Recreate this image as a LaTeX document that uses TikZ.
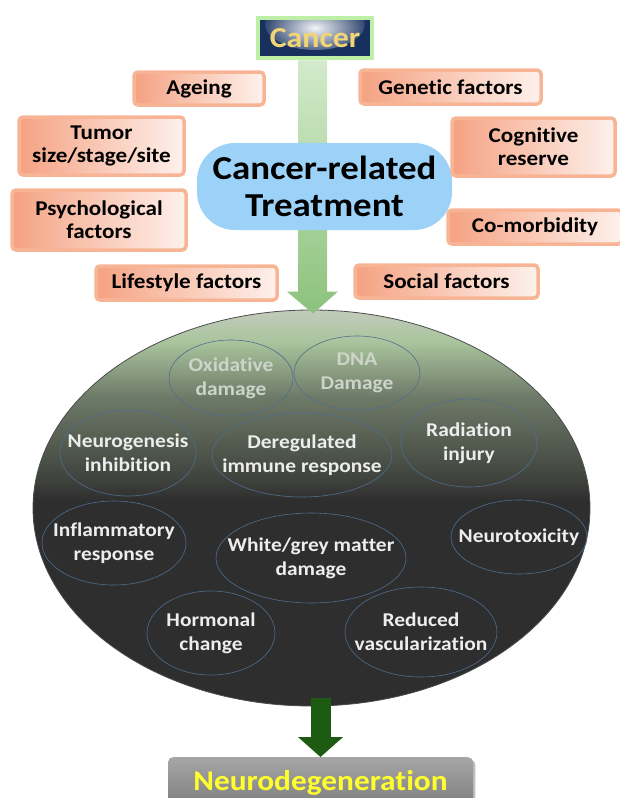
\documentclass[tikz,border=0pt]{standalone}
\usepackage{fontspec}
\setmainfont{Carlito}[FakeStretch=1.1, Ligatures=NoCommon]
\usetikzlibrary{shapes.geometric,arrows.meta,calc,shadows}

\definecolor{cancerblue}{HTML}{17305E}
\definecolor{cancergold}{HTML}{F2D675}
\definecolor{glowgreen}{HTML}{BDF0A6}
\definecolor{barlight}{HTML}{D3EACB}
\definecolor{bardark}{HTML}{8CC27C}
\definecolor{treatblue}{HTML}{9CD2F7}
\definecolor{salmonline}{HTML}{F8B596}
\definecolor{salmonfill}{HTML}{F5A282}
\definecolor{ringblue}{HTML}{4F6E8E}
\definecolor{paletext}{HTML}{CDD4CA}
\definecolor{lighttext}{HTML}{EDEDED}
\definecolor{arrowgreen}{HTML}{1D5A12}
\definecolor{degentext}{HTML}{FFFF2E}
\definecolor{mechdark}{HTML}{2E2E2E}
\definecolor{mechband}{HTML}{3C3E3A}
\definecolor{mechmid}{HTML}{4A5047}
\definecolor{mechgrey}{HTML}{6E7A68}
\definecolor{mechgreen}{HTML}{A9C49D}
\definecolor{mechtop}{HTML}{C3CBBC}

% top of the big ellipse fades from grey-green into dark grey
\pgfdeclareverticalshading{mechfade}{100bp}{%
  color(0bp)=(mechdark); color(51bp)=(mechdark);
  color(53bp)=(mechband); color(56bp)=(mechmid);
  color(64bp)=(mechgrey); color(71bp)=(mechgreen);
  color(75bp)=(mechtop); color(100bp)=(mechtop)}

\tikzset{
  factor/.style={draw=salmonline, line width=3.5pt, rounded corners=4pt,
    left color=salmonfill, right color=white!85!salmonfill,
    font=\fontsize{21}{23}\selectfont\bfseries, align=center, inner sep=1pt},
  % negative inner sep so that the minimum sizes fix each ring
  cause/.style={ellipse, draw=ringblue, line width=0.6pt, inner sep=-25pt,
    font=\fontsize{19.5}{24}\selectfont\bfseries, align=center},
}

\begin{document}
\begin{tikzpicture}[x=1pt, y=-1pt]
  \useasboundingbox (0,0) rectangle (620,798);
  \clip (0,0) rectangle (620,798);

  % Cancer box at the top
  \node[draw=glowgreen, line width=4.5pt, fill=cancerblue, minimum width=114, minimum height=40,
    inner sep=0pt, path picture={\shade[inner color=white!95!cancerblue, outer color=cancerblue]
      ($(path picture bounding box.north)+(0,6)$) ellipse (50 and 26);},
    text=cancergold, font=\fontsize{29}{30}\selectfont\bfseries] (cancer) at (315,38) {Cancer};

  % big ellipse with the mechanisms
  \node[ellipse, draw=black!70, line width=0.8pt, shading=mechfade,
    minimum width=557, minimum height=396] (mech) at (311.5,508) {};

  % green arrow from cancer down to the mechanisms
  \shade[top color=barlight, bottom color=bardark]
    ($(cancer.south)+(-2.5,0)$) -| ($(mech.north)+(-13.5,-18)$)
    -- ++(-11,0) -- ($(mech.north)+(1.5,4)$) -- ($(mech.north)+(26.5,-18)$)
    -- ++(-11,0) |- ($(cancer.south)+(26.5,0)$) -- cycle;

  % treatment
  \node[fill=treatblue, rounded corners=38pt, minimum width=255, minimum height=87,
    inner sep=0pt, align=center, font=\fontsize{33.5}{37}\selectfont\bfseries] (treat)
    at (324.5,186.5) {Cancer-related\\Treatment};

  % risk factors around the treatment
  \node[factor, minimum width=130, minimum height=33] (ageing) at (199,88.5) {Ageing};
  \node[factor, minimum width=181, minimum height=34] (genetic) at (450.5,87) {Genetic factors};
  \node[factor, minimum width=165, minimum height=58] (tumor) at (101.5,146) {Tumor\\size/stage/site};
  \node[factor, minimum width=163, minimum height=58] (cogn) at (533.5,147) {Cognitive\\reserve};
  \node[factor, minimum width=174, minimum height=60] (psych) at (99,220) {Psychological\\factors};
  \node[factor, minimum width=174, minimum height=34] (comorb) at (535,227) {Co-morbidity};
  \node[factor, minimum width=181, minimum height=34] (life) at (186.5,283) {Lifestyle factors};
  \node[factor, minimum width=183, minimum height=33] (social) at (446.5,281.5) {Social factors};

  % mechanisms inside the ellipse
  \node[cause, text=paletext, minimum width=124, minimum height=76] (oxid) at (231,378) {Oxidative\\damage};
  \node[cause, text=paletext, minimum width=126, minimum height=74] (dna) at (357,373) {DNA\\Damage};
  \node[cause, text=lighttext, minimum width=136, minimum height=86] (neurog) at (128,453) {Neurogenesis\\inhibition};
  \node[cause, text=lighttext, minimum width=180, minimum height=84] (immune) at (302,455) {Deregulated\\immune response};
  \node[cause, text=lighttext, minimum width=136, minimum height=88] (radiat) at (469,443) {Radiation\\injury};
  \node[cause, text=lighttext, minimum width=144, minimum height=84] (inflam) at (114,543) {Inflammatory\\response};
  \node[cause, text=lighttext, minimum width=190, minimum height=90] (matter) at (311,558) {White/grey matter\\damage};
  \node[cause, text=lighttext, minimum width=136, minimum height=74] (toxic) at (519,537) {Neurotoxicity};
  \node[cause, text=lighttext, minimum width=128, minimum height=84] (hormon) at (211,633) {Hormonal\\change};
  \node[cause, text=lighttext, minimum width=152, minimum height=90] (vascul) at (421,632) {Reduced\\vascularization};

  % outcome, running off the bottom edge
  \node[rounded corners=5pt, top color=black!35, bottom color=black!55, drop shadow,
    minimum width=305, inner xsep=0pt, inner ysep=3pt, text height=30pt, text depth=28pt,
    anchor=north, text=degentext, font=\fontsize{28.5}{30}\selectfont\bfseries] (degen)
    at (320.5,757) {Neurodegeneration};
  \draw[arrowgreen, line width=20pt, -{Triangle[width=44pt, length=20pt]}]
    ($(mech.south -| degen.north)+(0,-8)$) -- (degen.north);
\end{tikzpicture}
\end{document}
